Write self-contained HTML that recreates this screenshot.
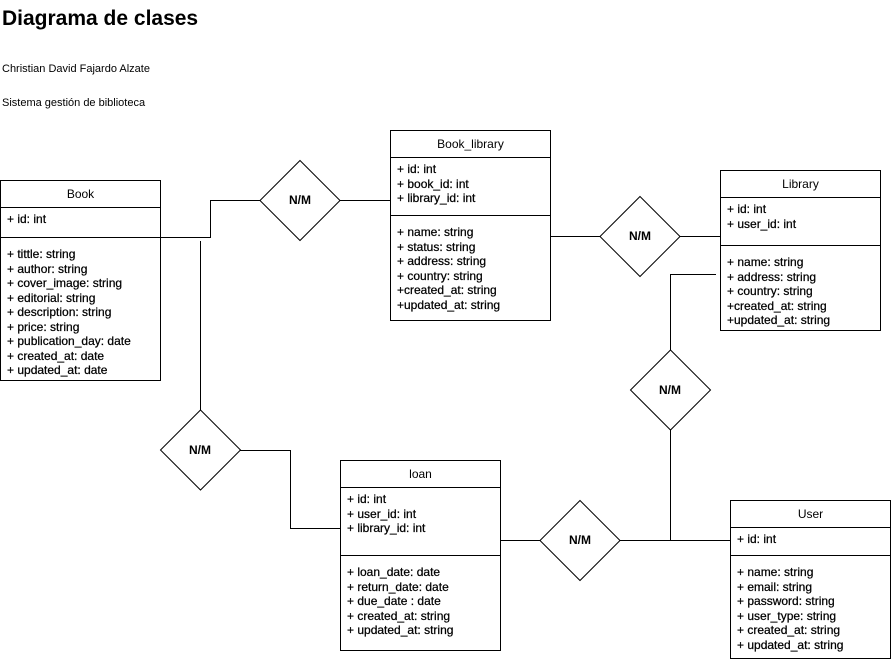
<!DOCTYPE html>
<html><head><meta charset="utf-8"><style>
body{margin:0;width:891px;height:664px;background:#fff;position:relative;font-family:"Liberation Sans",Arial,sans-serif;color:#000;overflow:hidden}
.t{position:absolute;white-space:nowrap}
.box{position:absolute;border:1px solid #000;box-sizing:border-box;background:#fff;font-size:12px}
.hd{text-align:center;border-bottom:1px solid #000;box-sizing:border-box}
.sec{padding:4px 0 0 6px;line-height:14.5px;box-sizing:border-box;-webkit-text-stroke:0.25px #000}
.lbl{position:absolute;font-size:12px;font-weight:bold;width:80px;text-align:center}
</style></head><body>
<div class="t" style="left:2px;top:7px;font-size:21px;font-weight:bold">Diagrama de clases</div>
<div class="t" style="left:2px;top:63px;font-size:11px">Christian David Fajardo Alzate</div>
<div class="t" style="left:2px;top:97px;font-size:11px">Sistema gestión de biblioteca</div>

<svg width="891" height="664" style="position:absolute;left:0;top:0" fill="none" stroke="#000" stroke-width="1">
<polyline points="160.5,237.5 210.5,237.5 210.5,200.5 260.5,200.5"/>
<line x1="340" y1="200.5" x2="390" y2="200.5"/>
<line x1="550" y1="236.5" x2="600" y2="236.5"/>
<line x1="680" y1="236.5" x2="720" y2="236.5"/>
<polyline points="716,274.5 670.5,274.5 670.5,350"/>
<line x1="670.5" y1="430" x2="670.5" y2="540"/>
<line x1="620" y1="540.5" x2="730" y2="540.5"/>
<line x1="500" y1="540.5" x2="540" y2="540.5"/>
<line x1="200.5" y1="241" x2="200.5" y2="410"/>
<polyline points="240,450.5 290.5,450.5 290.5,528.5 340,528.5"/>
<polygon points="300,160.5 340,200.5 300,240.5 260,200.5" fill="#fff"/>
<polygon points="640,196.5 680,236.5 640,276.5 600,236.5" fill="#fff"/>
<polygon points="670.5,350 710.5,390 670.5,430 630.5,390" fill="#fff"/>
<polygon points="200.5,410 240.5,450 200.5,490 160.5,450" fill="#fff"/>
<polygon points="580,500.5 620,540.5 580,580.5 540,540.5" fill="#fff"/>
</svg>
<div class="lbl" style="left:260px;top:193px">N/M</div>
<div class="lbl" style="left:600px;top:229px">N/M</div>
<div class="lbl" style="left:630px;top:383px">N/M</div>
<div class="lbl" style="left:160px;top:443px">N/M</div>
<div class="lbl" style="left:540px;top:533px">N/M</div>

<div class="box" style="left:0;top:180px;width:161px;height:201px">
<div class="hd" style="height:27px;line-height:26px">Book</div>
<div class="sec" style="height:29px">+ id: int</div>
<div class="sec" style="border-top:1px solid #000;padding-top:9px">+ tittle: string<br>+ author: string<br>+ cover_image: string<br>+ editorial: string<br>+ description: string<br>+ price: string<br>+ publication_day: date<br>+ created_at: date<br>+ updated_at: date</div>
</div>

<div class="box" style="left:390px;top:130px;width:161px;height:191px">
<div class="hd" style="height:27px;line-height:26px">Book_library</div>
<div class="sec" style="height:57px">+ id: int<br>+ book_id: int<br>+ library_id: int</div>
<div class="sec" style="border-top:1px solid #000;padding-top:9px">+ name: string<br>+ status: string<br>+ address: string<br>+ country: string<br>+created_at: string<br>+updated_at: string</div>
</div>

<div class="box" style="left:720px;top:170px;width:161px;height:161px">
<div class="hd" style="height:27px;line-height:26px">Library</div>
<div class="sec" style="height:47px">+ id: int<br>+ user_id: int</div>
<div class="sec" style="border-top:1px solid #000;padding-top:9px">+ name: string<br>+ address: string<br>+ country: string<br>+created_at: string<br>+updated_at: string</div>
</div>

<div class="box" style="left:340px;top:460px;width:161px;height:191px">
<div class="hd" style="height:27px;line-height:26px">loan</div>
<div class="sec" style="height:67px">+ id: int<br>+ user_id: int<br>+ library_id: int</div>
<div class="sec" style="border-top:1px solid #000;padding-top:9px">+ loan_date: date<br>+ return_date: date<br>+ due_date : date<br>+ created_at: string<br>+ updated_at: string</div>
</div>

<div class="box" style="left:730px;top:500px;width:161px;height:159px">
<div class="hd" style="height:27px;line-height:26px">User</div>
<div class="sec" style="height:27px">+ id: int</div>
<div class="sec" style="border-top:1px solid #000;padding-top:9px">+ name: string<br>+ email: string<br>+ password: string<br>+ user_type: string<br>+ created_at: string<br>+ updated_at: string</div>
</div>
</body></html>
